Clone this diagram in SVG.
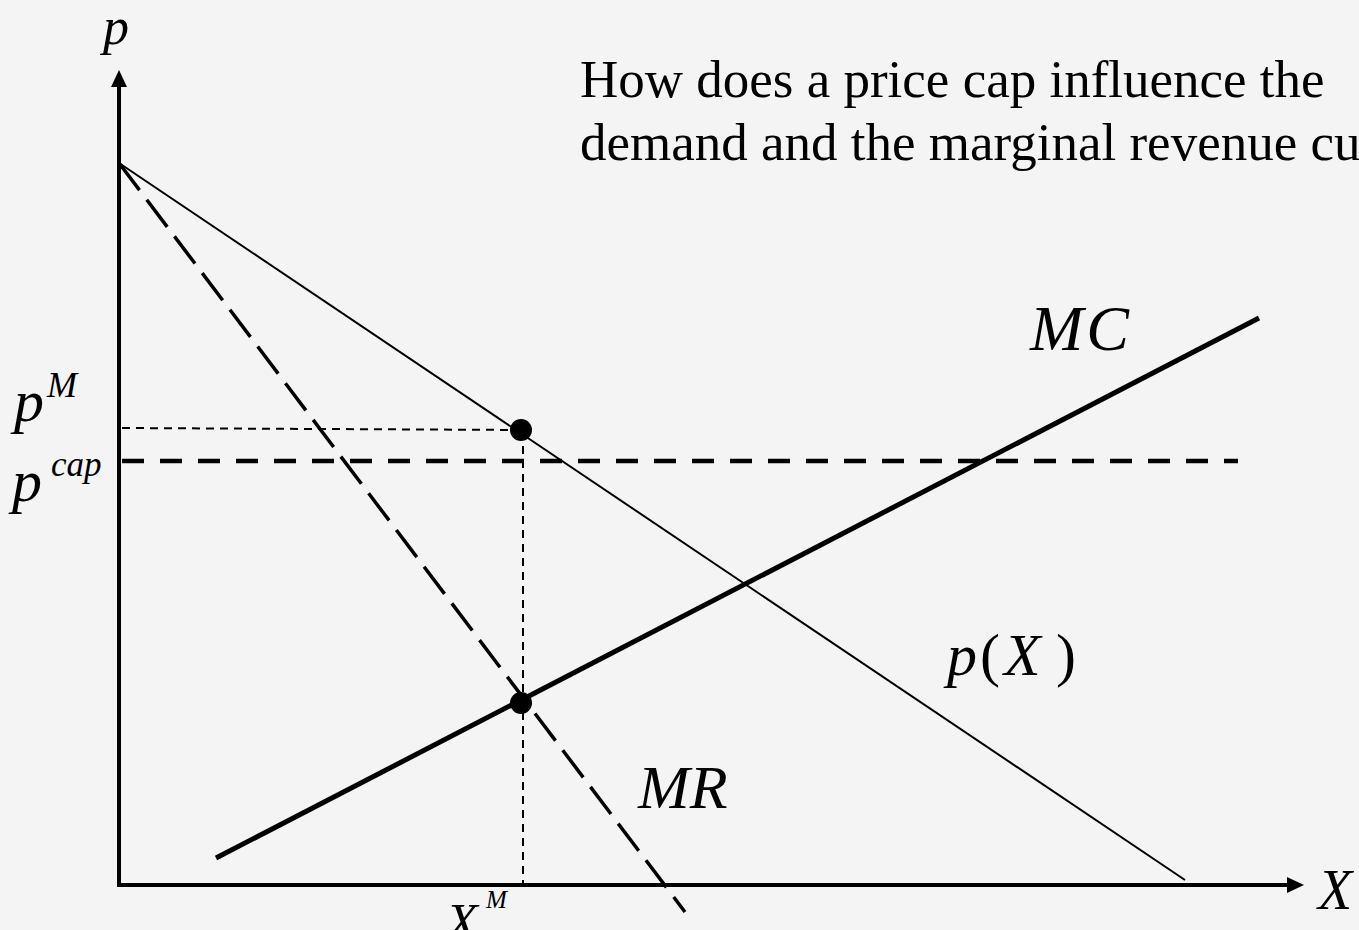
<svg xmlns="http://www.w3.org/2000/svg" width="1359" height="930" viewBox="0 0 1359 930">
<style>
.t{font-family:"Liberation Serif","Times New Roman",serif;fill:#000}
.i{font-style:italic}
.axis{stroke:#000;stroke-width:4;fill:none}
.thin{stroke:#000;stroke-width:2;fill:none}
.guide{stroke:#000;stroke-width:2;stroke-dasharray:8 6;fill:none}
</style>
<rect width="1359" height="930" fill="#f4f4f4"/>
<g id="connectors">
<g id="axes">
<line class="axis" x1="119" y1="887" x2="119" y2="84"/>
<polygon points="119,70 111,87 127,87" fill="#000"/>
<line class="axis" x1="117" y1="885" x2="1289" y2="885"/>
<polygon points="1304,885 1287,877 1287,893" fill="#000"/>
</g>
<line id="demand" class="thin" x1="119" y1="163" x2="1185" y2="880"/>
<line id="mr" x1="119" y1="163" x2="685" y2="912" stroke="#000" stroke-width="3.5" stroke-dasharray="34 12"/>
<line id="mc" x1="216" y1="858" x2="1259" y2="318" stroke="#000" stroke-width="5"/>
<line id="pcap" x1="122" y1="461" x2="1238" y2="461" stroke="#000" stroke-width="4.5" stroke-dasharray="22 16"/>
<line id="pm-guide" class="guide" x1="122" y1="428" x2="521" y2="430"/>
<line id="xm-guide" class="guide" x1="523" y1="432" x2="523" y2="884"/>
</g>
<g id="point-monopoly"><circle cx="521" cy="430" r="11" fill="#000"/></g>
<g id="point-mrmc"><circle cx="521" cy="703" r="11" fill="#000"/></g>
<g id="label-p"><text class="t i" x="103" y="44" font-size="52">p</text></g>
<g id="label-X"><text class="t i" x="1318" y="909" font-size="56">X</text></g>
<g id="label-pM"><text class="t i" x="14" y="421" font-size="60">p</text><text class="t i" x="47" y="397" font-size="36">M</text></g>
<g id="label-pcap"><text class="t i" x="12" y="501" font-size="60">p</text><text class="t i" x="51" y="476" font-size="35">cap</text></g>
<g id="label-XM"><text class="t i" x="446" y="940" font-size="52">X</text><text class="t i" x="486" y="908" font-size="25">M</text></g>
<g id="label-MC"><text class="t i" x="1030" y="350" font-size="64" letter-spacing="3">MC</text></g>
<g id="label-pX"><text class="t" y="675" font-size="60"><tspan class="i" x="947">p</tspan><tspan x="980">(</tspan><tspan class="i" x="1004">X</tspan><tspan x="1056">)</tspan></text></g>
<g id="label-MR"><text class="t i" x="638" y="808" font-size="62">MR</text></g>
<g id="title"><text class="t" x="580" y="97" font-size="53">How does a price cap influence the</text><text class="t" x="580" y="160" font-size="53">demand and the marginal revenue cu</text></g>
</svg>
